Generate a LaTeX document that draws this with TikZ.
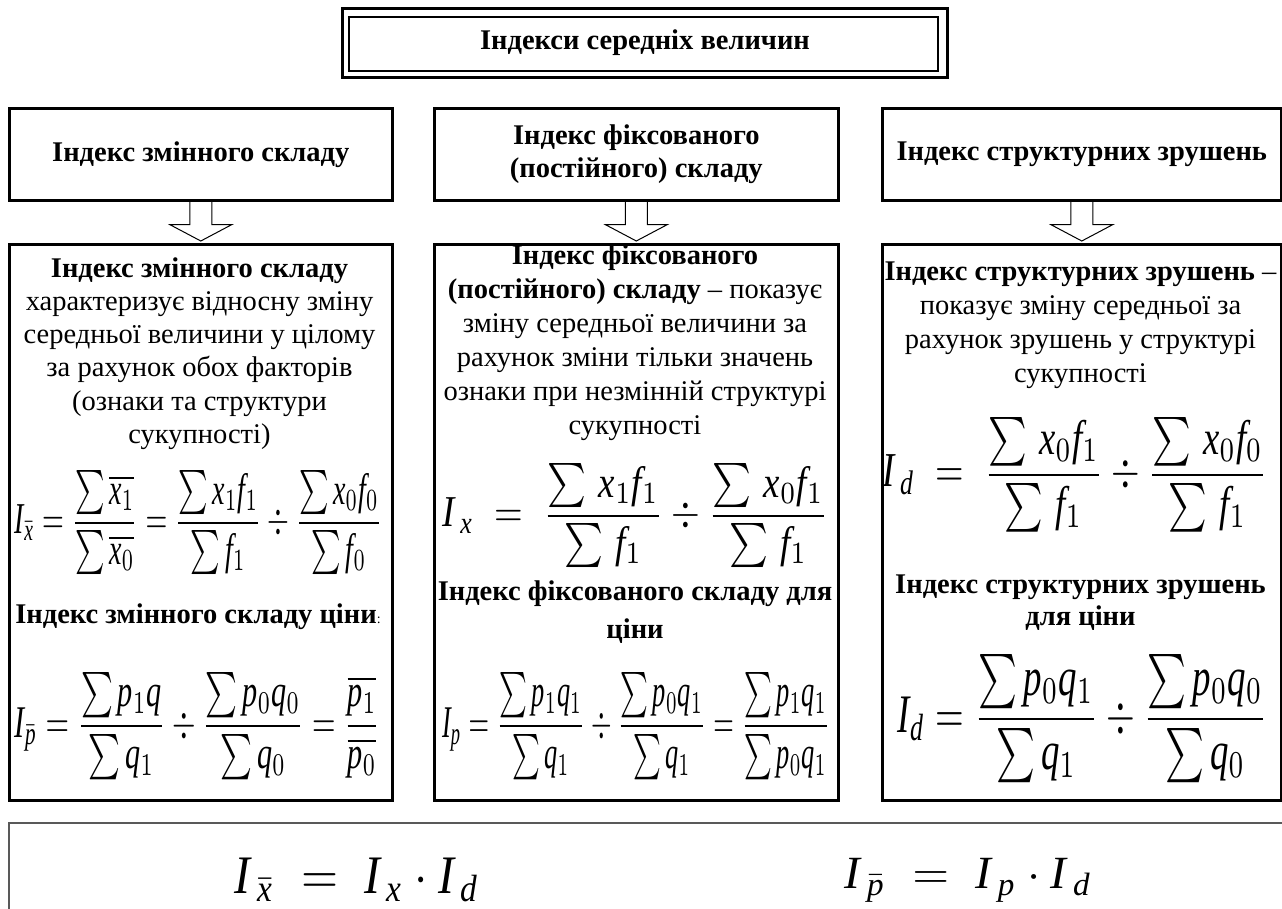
\documentclass[tikz,border=0pt]{standalone}
\usepackage{amsmath}
\usepackage{fontspec}
\setmainfont{Liberation Serif}
\usepackage{graphicx}
\usetikzlibrary{calc}
\tikzset{
  box/.style={draw, line width=2.6pt, inner sep=0pt, anchor=north west},
  txt/.style={align=center, inner sep=0pt, font=\fontsize{28.5}{33.3}\selectfont},
  hd/.style={align=center, inner sep=0pt, font=\fontsize{28.5}{33.3}\selectfont\bfseries},
  fm/.style={inner sep=0pt},
  blockarr/.style={draw, line width=1pt},
}
\newcommand\fml[3]{\resizebox*{#1pt}{#2pt}{$\displaystyle #3$}}
\newcommand\bs{\sum}
\newcommand\zI{\mathit{I}}
\newcommand\zx{\mathit{x}}
\newcommand\zf{\mathit{f}}
\newcommand\zp{\mathit{p}}
\newcommand\zq{\mathit{q}}
\newcommand\zd{\mathit{d}}
\newcommand\blockarrow[2]{\draw[blockarr] ($(#1.south)+(-11,0)$) -- ++(0,23) -- ++(-20,0) -- ($(#2.north)+(0,-2)$) -- ($(#1.south)+(31,23)$) -- ++(-20,0) -- ++(0,-23);}
\begin{document}
\begin{tikzpicture}[x=1pt,y=-1pt]
\useasboundingbox (0,0) rectangle (1282,909);
% title
\node[box, line width=3pt, minimum width=605pt, minimum height=69pt, font=\fontsize{28.5}{33}\selectfont\bfseries] (title) at (341,7) {Індекси середніх величин};
\draw[line width=2.2pt] ($(title.north west)+(8,10)$) rectangle ($(title.south east)+(-11,-8)$);
% top boxes
\node[box, hd, minimum width=383pt, minimum height=92pt] (t1) at (8,107) {Індекс змінного складу};
\node[box, hd, minimum width=404pt, minimum height=92pt] (t2) at (433,107) {Індекс фіксованого\\(постійного) складу};
\node[box, hd, minimum width=399pt, minimum height=92pt] (t3) at (881,107) {Індекс структурних зрушень};
% lower boxes
\node[box, minimum width=383pt, minimum height=556pt] (b1) at (8,243) {};
\node[box, minimum width=404pt, minimum height=556pt] (b2) at (433,243) {};
\node[box, minimum width=399pt, minimum height=556pt] (b3) at (881,243) {};
% arrows
\blockarrow{t1}{b1}
\blockarrow{t2}{b2}
\blockarrow{t3}{b3}
% box 1 content
\node[txt] (d1) at (199.5,353.5) {\textbf{Індекс змінного складу}\\характеризує відносну зміну\\середньої величини у цілому\\за рахунок обох факторів\\(ознаки та структури\\сукупності)};
\node[fm] (f1a) at (198.5,523) {\fml{367}{104}{\zI_{\bar{\zx}} = \dfrac{\bs\overline{\zx_1}}{\bs\overline{\zx_0}} = \dfrac{\bs \zx_1 \zf_1}{\bs \zf_1} \div \dfrac{\bs \zx_0 \zf_0}{\bs \zf_0}}};
\node[hd] (h1) at (198,617) {Індекс змінного складу ціни{\normalfont\fontsize{14}{14}\selectfont :}};
\node[fm] (f1b) at (197.5,726.5) {\fml{365}{107}{\zI_{\bar{\zp}} = \dfrac{\bs \zp_1 \zq}{\bs \zq_1} \div \dfrac{\bs \zp_0 \zq_0}{\bs \zq_0} = \dfrac{\overline{\zp_1}}{\overline{\zp_0}}}};
% box 2 content
\node[txt, font=\fontsize{28.5}{34}\selectfont] (d2) at (635,343) {\textbf{Індекс фіксованого}\\\textbf{(постійного) складу} – показує\\зміну середньої величини за\\рахунок зміни тільки значень\\ознаки при незмінній структурі\\сукупності};
\node[fm] (f2a) at (635.5,516) {\fml{385}{104}{\zI_{\,\zx} \;=\; \dfrac{\bs\, \zx_1 \zf_1}{\bs\, \zf_1} \div \dfrac{\bs\, \zx_0 \zf_1}{\bs\, \zf_1}}};
\node[hd, font=\fontsize{28.5}{38}\selectfont\bfseries] (h2) at (635,612) {Індекс фіксованого складу для\\ціни};
\node[fm] (f2b) at (636,726.5) {\fml{388}{107}{\zI_\zp = \dfrac{\bs \zp_1\zq_1}{\bs \zq_1}\div\dfrac{\bs \zp_0 \zq_1}{\bs \zq_1} = \dfrac{\bs \zp_1 \zq_1}{\bs \zp_0 \zq_1}}};
% box 3 content
\node[txt, font=\fontsize{28.5}{34}\selectfont] (d3) at (1080.5,325.5) {\textbf{Індекс структурних зрушень} –\\показує зміну середньої за\\рахунок зрушень у структурі\\сукупності};
\node[fm] (f3a) at (1075,475) {\fml{384}{115}{\zI_{\,\zd} \;=\; \dfrac{\bs\, \zx_0 \zf_1}{\bs\, \zf_1}\div\dfrac{\bs\, \zx_0 \zf_0}{\bs\, \zf_1}}};
\node[hd, font=\fontsize{28.5}{32}\selectfont\bfseries] (h3) at (1080.5,602.5) {Індекс структурних зрушень\\для ціни};
\node[fm] (f3b) at (1082.5,719) {\fml{369}{128}{\zI_\zd = \dfrac{\bs \zp_0\zq_1}{\bs \zq_1}\div\dfrac{\bs \zp_0\zq_0}{\bs \zq_0}}};
% bottom frame
\draw[line width=1.4pt, draw=black!65] (9,915) |- (1290,823);
\node[fm] (g1) at (357.5,880) {\fml{245}{44}{\zI_{\,\bar{\zx}} \;=\; \zI_{\,\zx}\cdot \zI_{\,\zd}}};
\node[fm] (g2) at (968.5,880) {\fml{247}{44}{\zI_{\,\bar{\zp}} \;=\; \zI_{\,\zp}\cdot \zI_{\,\zd}}};
\end{tikzpicture}
\end{document}
